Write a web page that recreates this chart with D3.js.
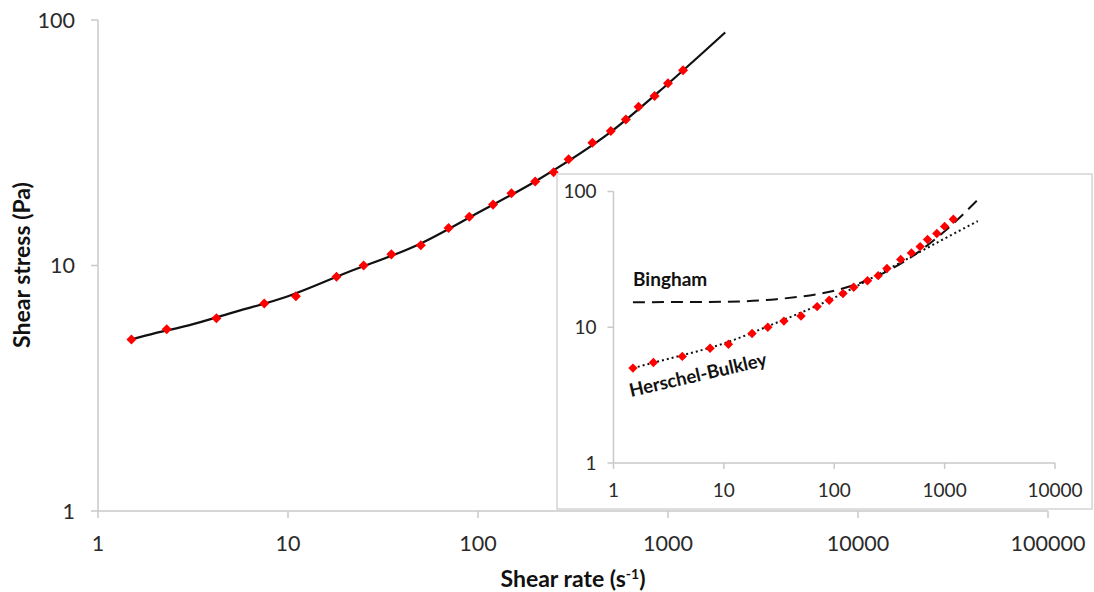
<!DOCTYPE html>
<html><head><meta charset="utf-8">
<script src="https://cdn.jsdelivr.net/npm/d3@7/dist/d3.min.js"></script>
<style>
body{margin:0;background:#fff;}
svg{display:block;font-family:Lato,"Open Sans",sans-serif;}
</style></head>
<body><svg id="c" width="1094" height="592"></svg>
<script>
// measured data
const shearRate = [1.5, 2.3, 4.2, 7.5, 11, 18, 25, 35, 50, 70, 90, 120, 150, 200, 250, 300, 400, 500, 600, 700, 850, 1000, 1200];
const shearStress = [5.0, 5.5, 6.1, 7.0, 7.5, 9.0, 10.0, 11.1, 12.1, 14.2, 15.8, 17.7, 19.7, 22.0, 24.0, 27.1, 31.6, 35.3, 39.3, 44.3, 49.0, 55.3, 62.4];
// main fitted curve
const fitX = [1.5, 2, 3, 5, 10, 20, 50, 100, 200, 500, 1000, 2000];
const fitY = [5.0, 5.3, 5.7, 6.4, 7.5, 9.3, 12.3, 16.4, 22.0, 35.0, 55.0, 89.0];
// inset model curves
const binghamX = [1.5, 10, 30, 100, 200, 300, 500, 1000, 1500, 2000];
const binghamY = [15.3, 15.4, 16.1, 18.6, 22.2, 25.8, 33.0, 51.0, 69.0, 87.0];
const hbX = [1.5, 3, 10, 30, 100, 300, 1000, 2000];
const hbY = [5.0, 5.8, 7.6, 10.8, 16.5, 26.5, 45.0, 60.6];
const mainXTicks = [1, 10, 100, 1000, 10000, 100000];
const mainYTicks = [1, 10, 100];
const insetXTicks = [1, 10, 100, 1000, 10000];
const insetYTicks = [1, 10, 100];

const svg = d3.select("#c");
const axisColor = "#c9c9c9";
const labelColor = "#2a2a2a";

function drawAxes(g, x, y, xt, yt, opt){
  const [x0,x1] = x.range(), [y0,y1] = y.range();
  g.append("line").attr("x1",x0).attr("x2",x1).attr("y1",y0).attr("y2",y0)
    .attr("stroke",axisColor).attr("stroke-width",1.5);
  g.append("line").attr("x1",x0).attr("x2",x0).attr("y1",y0).attr("y2",y1)
    .attr("stroke",axisColor).attr("stroke-width",1.5);
  xt.forEach(v=>{
    g.append("line").attr("x1",x(v)).attr("x2",x(v)).attr("y1",y0).attr("y2",y0+opt.tick)
      .attr("stroke",axisColor).attr("stroke-width",1.5);
    g.append("text").attr("x",x(v)).attr("y",y0+opt.xlabOff).attr("text-anchor","middle")
      .attr("font-size",opt.fs).attr("fill",labelColor).text(d3.format("d")(v));
  });
  yt.forEach(v=>{
    g.append("line").attr("x1",x0-opt.tick).attr("x2",x0).attr("y1",y(v)).attr("y2",y(v))
      .attr("stroke",axisColor).attr("stroke-width",1.5);
    g.append("text").attr("x",x0-opt.ylabOff).attr("y",y(v)).attr("dy","0.35em").attr("text-anchor","end")
      .attr("font-size",opt.fs).attr("fill",labelColor).text(d3.format("d")(v));
  });
}

const diamond = d3.symbol().type(d3.symbolDiamond2);

// ---- main chart
const x = d3.scaleLog().domain([1, 100000]).range([98, 1048]);
const y = d3.scaleLog().domain([1, 100]).range([511, 20]);
const gm = svg.append("g");
drawAxes(gm, x, y, mainXTicks, mainYTicks, {tick:7, xlabOff:40, ylabOff:23, fs:21.5});

const line = d3.line().x(d=>x(d[0])).y(d=>y(d[1])).curve(d3.curveMonotoneX);
gm.append("path").datum(d3.zip(fitX, fitY)).attr("d", line)
  .attr("fill","none").attr("stroke","#111").attr("stroke-width",2.2);
gm.selectAll(".pt").data(d3.zip(shearRate, shearStress)).join("path")
  .attr("transform",d=>`translate(${x(d[0])},${y(d[1])})`)
  .attr("d", diamond.size(64)).attr("fill","#ff0000");

gm.append("text").attr("x",573).attr("y",587).attr("text-anchor","middle")
  .attr("font-size",23).attr("font-weight","bold").attr("fill","#111")
  .html('Shear rate (s<tspan dy="-8" font-size="14">-1</tspan><tspan dy="8">)</tspan>');
gm.append("text").attr("transform","translate(30,265) rotate(-90)").attr("text-anchor","middle")
  .attr("font-size",23).attr("font-weight","bold").attr("fill","#111").text("Shear stress (Pa)");

// ---- inset
const gi = svg.append("g");
gi.append("rect").attr("x",557).attr("y",174).attr("width",535).attr("height",335)
  .attr("fill","#fff").attr("stroke","#d4d4d4").attr("stroke-width",1.5);
const xi = d3.scaleLog().domain([1, 10000]).range([613.5, 1055]);
const yi = d3.scaleLog().domain([1, 100]).range([463, 191.5]);
drawAxes(gi, xi, yi, insetXTicks, insetYTicks, {tick:6, xlabOff:34, ylabOff:17, fs:19});

const lineI = d3.line().x(d=>xi(d[0])).y(d=>yi(d[1])).curve(d3.curveMonotoneX);
gi.append("path").datum(d3.zip(binghamX, binghamY)).attr("d", lineI)
  .attr("fill","none").attr("stroke","#111").attr("stroke-width",2).attr("stroke-dasharray","12,7");
gi.append("path").datum(d3.zip(hbX, hbY)).attr("d", lineI)
  .attr("fill","none").attr("stroke","#111").attr("stroke-width",2).attr("stroke-dasharray","2,3");
gi.selectAll(".pt").data(d3.zip(shearRate, shearStress)).join("path")
  .attr("transform",d=>`translate(${xi(d[0])},${yi(d[1])})`)
  .attr("d", diamond.size(56)).attr("fill","#ff0000");

gi.append("text").attr("x",633).attr("y",286).attr("font-size",19).attr("font-weight","bold")
  .attr("fill","#111").text("Bingham");
gi.append("text").attr("transform","translate(631,397) rotate(-13)").attr("font-size",18.5)
  .attr("font-weight","bold").attr("fill","#111").text("Herschel-Bulkley");
</script></body></html>
